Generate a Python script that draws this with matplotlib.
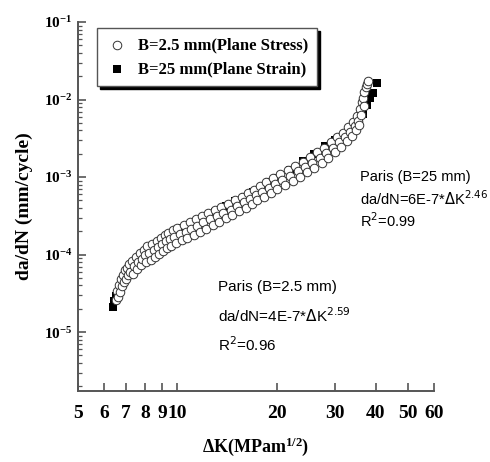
import numpy as np
import matplotlib
matplotlib.use("Agg")
from matplotlib import pyplot as plt
from matplotlib.ticker import FixedLocator, NullLocator, LogLocator, NullFormatter

# fonts: serif bold for axes, narrow sans for the Paris fits
plt.rcParams['font.family'] = ['Liberation Serif', 'DejaVu Serif']
plt.rcParams['mathtext.fontset'] = 'custom'
plt.rcParams['mathtext.rm'] = 'Liberation Serif:bold'
plt.rcParams['mathtext.bf'] = 'Liberation Serif:bold'
plt.rcParams['mathtext.it'] = 'Liberation Serif:bold'

# B = 2.5 mm (plane stress), open circles
dk_stress = [6.5, 6.55, 6.6, 6.65, 6.7, 6.75, 6.8, 6.85, 6.9, 6.95, 7.0, 7.05,
             7.1, 7.15, 7.2, 7.3, 7.35, 7.4, 7.5, 7.55, 7.6, 7.7, 7.75, 7.8,
             7.9, 8.0, 8.05, 8.1, 8.2, 8.3, 8.4, 8.5, 8.55, 8.65, 8.75, 8.8,
             8.9, 9.0, 9.05, 9.15, 9.25, 9.3, 9.4, 9.5, 9.6, 9.7, 9.8, 9.9,
             10.0, 10.2, 10.3, 10.45, 10.6, 10.7, 10.9, 11.0, 11.2, 11.4, 11.5, 11.7,
             11.9, 12.0, 12.2, 12.4, 12.6, 12.8, 13.0, 13.2, 13.4, 13.6, 13.8, 14.0,
             14.2, 14.5, 14.7, 15.0, 15.2, 15.4, 15.7, 15.9, 16.1, 16.4, 16.6, 16.8,
             17.1, 17.3, 17.5, 17.8, 18.0, 18.3, 18.6, 18.9, 19.2, 19.5, 19.8, 20.1,
             20.5, 20.8, 21.2, 21.6, 22.0, 22.4, 22.8, 23.2, 23.6, 24.0, 24.4, 24.8,
             25.2, 25.6, 26.0, 26.5, 27.0, 27.4, 27.9, 28.3, 28.7, 29.2, 29.6, 30.0,
             30.5, 30.9, 31.3, 31.8, 32.2, 32.6, 33.0, 33.4, 33.8, 34.2, 34.5, 34.8,
             35.1, 35.4, 35.6, 35.9, 36.1, 36.3, 36.5, 36.7, 36.9, 37.2, 37.5, 37.8]
dadn_stress = [2.6e-5, 3.4e-5, 2.8e-5, 4.0e-5, 3.3e-5, 4.8e-5, 3.9e-5, 5.5e-5, 4.4e-5, 6.3e-5, 4.8e-5, 6.8e-5,
               5.4e-5, 7.6e-5, 6.0e-5, 8.3e-5, 5.6e-5, 7.2e-5, 9.4e-5, 6.6e-5, 8.0e-5, 1.05e-4, 7.3e-5, 8.8e-5,
               1.15e-4, 9.8e-5, 7.9e-5, 1.28e-4, 1.05e-4, 8.6e-5, 1.38e-4, 1.15e-4, 9.4e-5, 1.5e-4, 1.25e-4, 1.02e-4,
               1.62e-4, 1.38e-4, 1.12e-4, 1.78e-4, 1.48e-4, 1.2e-4, 1.9e-4, 1.58e-4, 1.3e-4, 2.05e-4, 1.7e-4, 1.4e-4,
               2.2e-4, 1.85e-4, 1.52e-4, 2.4e-4, 1.98e-4, 1.65e-4, 2.6e-4, 2.15e-4, 1.8e-4, 2.85e-4, 2.35e-4, 1.95e-4,
               3.1e-4, 2.6e-4, 2.15e-4, 3.4e-4, 2.85e-4, 2.4e-4, 3.75e-4, 3.1e-4, 2.65e-4, 4.1e-4, 3.45e-4, 2.95e-4,
               4.5e-4, 3.8e-4, 3.25e-4, 5.0e-4, 4.25e-4, 3.6e-4, 5.6e-4, 4.7e-4, 4.0e-4, 6.2e-4, 5.2e-4, 4.5e-4,
               6.9e-4, 5.8e-4, 5.0e-4, 7.7e-4, 6.5e-4, 5.6e-4, 8.6e-4, 7.3e-4, 6.3e-4, 9.6e-4, 8.2e-4, 7.0e-4,
               1.08e-3, 9.2e-4, 7.9e-4, 1.22e-3, 1.04e-3, 8.9e-4, 1.38e-3, 1.18e-3, 1.0e-3, 1.58e-3, 1.34e-3, 1.15e-3,
               1.8e-3, 1.53e-3, 1.32e-3, 2.08e-3, 1.77e-3, 1.52e-3, 2.4e-3, 2.05e-3, 1.78e-3, 2.8e-3, 2.4e-3, 2.1e-3,
               3.25e-3, 2.8e-3, 2.45e-3, 3.75e-3, 3.25e-3, 2.9e-3, 4.4e-3, 3.8e-3, 3.4e-3, 5.2e-3, 4.5e-3, 4.0e-3,
               6.2e-3, 5.3e-3, 4.7e-3, 7.6e-3, 6.4e-3, 9.2e-3, 1.05e-2, 8.2e-3, 1.25e-2, 1.45e-2, 1.6e-2, 1.75e-2]

# B = 25 mm (plane strain), filled squares
dk_strain = [6.4, 6.45, 6.5, 6.6, 6.7, 6.85, 7.0, 7.2, 7.4, 7.7, 8.0, 8.3, 8.6, 8.9,
             9.2, 9.5, 9.8, 10.3, 11.0, 12.0, 13.0, 14.0, 15.0, 16.0, 17.0, 18.0,
             19.0, 20.0, 22.0, 24.0, 26.0, 28.0, 30.0, 32.0, 34.0, 35.5, 36.5, 37.5,
             38.5, 39.2, 40.3]
dadn_strain = [2.1e-5, 2.5e-5, 2.9e-5, 3.2e-5, 3.8e-5, 4.4e-5, 5.2e-5, 6.2e-5, 7.0e-5,
               8.5e-5, 1.05e-4, 1.2e-4, 1.35e-4, 1.5e-4, 1.65e-4, 1.85e-4, 2.0e-4, 2.2e-4,
               2.5e-4, 3.0e-4, 3.5e-4, 4.2e-4, 4.9e-4, 5.6e-4, 6.5e-4, 7.5e-4, 8.6e-4,
               9.8e-4, 1.25e-3, 1.6e-3, 2.0e-3, 2.5e-3, 3.0e-3, 3.6e-3, 4.4e-3, 5.3e-3,
               6.5e-3, 8.5e-3, 1.05e-2, 1.2e-2, 1.65e-2]

x_ticks = [5, 6, 7, 8, 9, 10, 20, 30, 40, 50, 60]

fig = plt.figure(figsize=(4.9, 4.62), dpi=100)
ax = fig.add_axes([78/490, 1 - 391/462, 356/490, 369/462])

ax.scatter(dk_strain, dadn_strain, marker='s', s=28, c='black', lw=0,
           label='B=25 mm(Plane Strain)', zorder=2)
ax.scatter(dk_stress, dadn_stress, marker='o', s=38, facecolors='white',
           edgecolors='#333333', lw=0.7, label='B=2.5 mm(Plane Stress)', zorder=3)

ax.set_xscale('log')
ax.set_yscale('log')
ax.set_xlim(5, 60)
ax.set_ylim(10**-5.76, 1e-1)

ax.xaxis.set_major_locator(FixedLocator(x_ticks))
ax.xaxis.set_minor_locator(NullLocator())
ax.set_xticklabels([str(t) for t in x_ticks])
ax.yaxis.set_major_locator(FixedLocator([1e-5, 1e-4, 1e-3, 1e-2, 1e-1]))
ax.yaxis.set_minor_locator(LogLocator(base=10, subs=np.arange(2, 10) * 1.0, numticks=20))
ax.yaxis.set_minor_formatter(NullFormatter())
ax.set_yticklabels([r'$10^{-5}$', r'$10^{-4}$', r'$10^{-3}$', r'$10^{-2}$', r'$10^{-1}$'])

for s in ['top', 'right']:
    ax.spines[s].set_visible(False)
for s in ['left', 'bottom']:
    ax.spines[s].set_color('#555555')
    ax.spines[s].set_linewidth(1.4)

ax.tick_params(axis='both', which='major', direction='in', length=6, width=1.2,
               color='#555555')
ax.tick_params(axis='y', which='minor', direction='in', length=3, width=0.9,
               color='#555555')
ax.tick_params(axis='x', labelsize=14, pad=10)
ax.tick_params(axis='y', labelsize=11, pad=4)
for lab in ax.get_xticklabels():
    lab.set_fontweight('bold')

ax.set_xlabel(r'$\Delta$K(MPam$^{1/2}$)', fontsize=13, fontweight='bold', labelpad=10)
ax.set_ylabel('da/dN (mm/cycle)', fontsize=14, fontweight='bold', labelpad=8)

handles, labels = ax.get_legend_handles_labels()
leg = ax.legend(handles[::-1], labels[::-1], loc='upper left', bbox_to_anchor=(0.03, 1.005),
                fancybox=False, edgecolor='#555555', framealpha=1,
                shadow={'color': 'black', 'alpha': 1},
                prop={'family': 'Liberation Serif', 'weight': 'bold', 'size': 12},
                handletextpad=0.6, borderpad=0.55, labelspacing=0.45, handlelength=1.3)
leg.get_frame().set_linewidth(1.0)

sans = ['Liberation Sans', 'DejaVu Sans']
fit_25 = ['Paris (B=25 mm)', r'da/dN=6E-7*$\Delta$K$^{2.46}$', r'R$^2$=0.99']
fit_2p5 = ['Paris (B=2.5 mm)', r'da/dN=4E-7*$\Delta$K$^{2.59}$', r'R$^2$=0.96']
for i, line in enumerate(fit_25):
    fig.text(360/490, 1 - (177 + 22*i)/462, line, family=sans,
             fontsize=10.5, va='center', ha='left', math_fontfamily='dejavusans')
for i, line in enumerate(fit_2p5):
    fig.text(218/490, 1 - (287 + 29*i)/462, line, family=sans,
             fontsize=11, va='center', ha='left', math_fontfamily='dejavusans')

fig.savefig('out.png', dpi=100)
